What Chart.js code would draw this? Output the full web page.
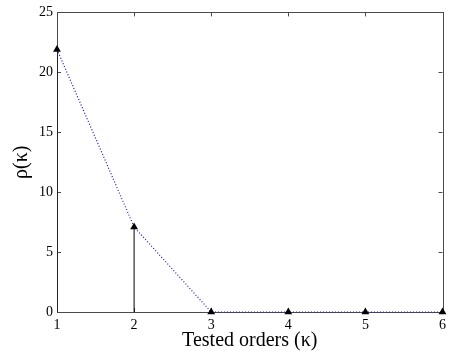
<!DOCTYPE html>
<html lang="en">
<head>
    <meta charset="UTF-8">
    <title>Tested orders</title>
    <script src="https://cdn.jsdelivr.net/npm/chart.js"></script>
    <style>
        html, body { margin: 0; padding: 0; background: #fff; }
        #wrap { width: 451px; height: 355px; }
    </style>
</head>
<body>
    <div id="wrap"><canvas id="myChart" width="451" height="355"></canvas></div>
    <script>
        // values
        const orders = [1, 2, 3, 4, 5, 6];
        const rho = [21.9, 7.1, 0, 0, 0, 0];
        const xTicks = [1, 2, 3, 4, 5, 6];
        const yTicks = [0, 5, 10, 15, 20, 25];

        const serif = "'Liberation Serif', 'Times New Roman', serif";
        const axisColor = '#4a4a4a';

        const points = orders.map((x, i) => ({ x: x, y: rho[i] }));

        // stems from zero to each value
        const stems = orders.map((x, i) => ({
            data: [{ x: x, y: 0 }, { x: x, y: rho[i] }],
            borderColor: '#000',
            borderWidth: 1,
            pointRadius: 0,
            fill: false
        }));

        // box + ticks pointing inwards, like the original figure
        const boxTicks = {
            id: 'boxTicks',
            beforeDatasetsDraw(chart) {
                const c = chart.ctx;
                const a = chart.chartArea;
                const xs = chart.scales.x, ys = chart.scales.y;
                c.save();
                c.strokeStyle = axisColor;
                c.lineWidth = 1;
                c.beginPath();
                xTicks.forEach(v => {
                    const px = Math.round(xs.getPixelForValue(v)) + 0.5;
                    c.moveTo(px, a.bottom); c.lineTo(px, a.bottom - 4);
                    c.moveTo(px, a.top); c.lineTo(px, a.top + 4);
                });
                yTicks.forEach(v => {
                    const py = Math.round(ys.getPixelForValue(v)) + 0.5;
                    c.moveTo(a.left, py); c.lineTo(a.left + 4, py);
                    c.moveTo(a.right, py); c.lineTo(a.right - 4, py);
                });
                c.stroke();
                c.strokeRect(Math.round(a.left) + 0.5, Math.round(a.top) + 0.5,
                    Math.round(a.right - a.left), Math.round(a.bottom - a.top));
                c.restore();
            }
        };

        const ctx = document.getElementById('myChart').getContext('2d');
        const chart = new Chart(ctx, {
            type: 'line',
            data: {
                datasets: [
                    {
                        data: points,
                        borderColor: '#1a1ad8',
                        borderWidth: 1.2,
                        borderDash: [1, 2],
                        pointStyle: 'triangle',
                        pointRadius: 4.5,
                        pointBackgroundColor: '#000',
                        pointBorderColor: '#000',
                        pointBorderWidth: 0,
                        fill: false,
                        clip: false,
                        order: 0
                    },
                    ...stems
                ]
            },
            options: {
                responsive: false,
                animation: false,
                layout: { padding: { top: 4, right: 6, left: 0, bottom: 0 } },
                plugins: { legend: { display: false }, tooltip: { enabled: false } },
                scales: {
                    x: {
                        type: 'linear',
                        min: 1, max: 6,
                        afterBuildTicks: s => { s.ticks = xTicks.map(v => ({ value: v })); },
                        afterFit: s => { s.height = 43; },
                        grid: { display: false, drawTicks: false },
                        border: { display: false },
                        ticks: { color: '#000', padding: 5, font: { family: serif, size: 14 } },
                        title: {
                            display: true,
                            text: 'Tested orders (\u03BA)',
                            color: '#000',
                            padding: { top: 0, bottom: 2 },
                            font: { family: serif, size: 20 }
                        }
                    },
                    y: {
                        min: 0, max: 25,
                        afterBuildTicks: s => { s.ticks = yTicks.map(v => ({ value: v })); },
                        afterFit: s => { s.width = 57; },
                        grid: { display: false, drawTicks: false },
                        border: { display: false },
                        ticks: { color: '#000', padding: 4, font: { family: serif, size: 14 } },
                        title: {
                            display: true,
                            text: '\u03C1(\u03BA)',
                            color: '#000',
                            padding: { top: 10, bottom: 0 },
                            font: { family: serif, size: 20 }
                        }
                    }
                }
            },
            plugins: [boxTicks]
        });
    </script>
</body>
</html>
